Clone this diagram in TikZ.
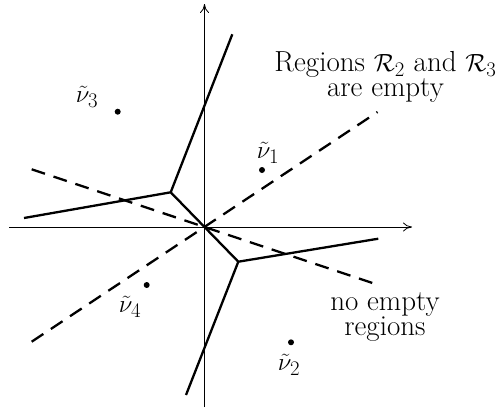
\documentclass[tikz,border=0pt]{standalone}
\usetikzlibrary{arrows.meta}
\begin{document}
\begin{tikzpicture}[x=1pt,y=-1pt,
  axis/.style={line width=0.8pt,-{To[length=9pt,width=9pt]}},
  edge/.style={line width=2.3pt},
  dashline/.style={line width=2.3pt,dash pattern=on 14pt off 9pt},
  dot/.style={circle,fill,inner sep=0pt,minimum size=6pt},
  lbl/.style={font=\fontsize{28}{23}\selectfont,inner sep=0pt},
  txt/.style={font=\fontsize{29}{21}\selectfont,align=center,inner sep=0pt}]
\useasboundingbox (0,0) rectangle (503,413);
% axes
\coordinate (O) at (204.5,227);
\coordinate (xl) at (9,227);
\coordinate (xr) at (412,227);
\coordinate (yb) at (204.5,407);
\coordinate (yt) at (204.5,4);
\draw[axis] (xl) -- (xr);
\draw[axis] (yb) -- (yt);
% dashed lines
\coordinate (d1a) at (31.7,169.3);
\coordinate (d1b) at (373.3,283.3);
\coordinate (d2a) at (31.7,341.7);
\coordinate (d2b) at (377.5,112);
\draw[dashline] (d1a) -- (d1b);
\draw[dashline] (d2a) -- (d2b);
% solid edges
\coordinate (A) at (170.7,192.3);
\coordinate (B) at (238.3,261.7);
\coordinate (At) at (232.3,34.3);
\coordinate (Al) at (24,218);
\coordinate (Bb) at (186,395);
\coordinate (Br) at (378.3,238.7);
\draw[edge] (At) -- (A) -- (Al);
\draw[edge] (A) -- (B);
\draw[edge] (Bb) -- (B) -- (Br);
% points
\node[dot] (v3) at (117.7,111.7) {};
\node[dot] (v1) at (262,170) {};
\node[dot] (v4) at (146.7,285) {};
\node[dot] (v2) at (291,342.3) {};
\node[lbl] (l3) at (87,97) {$\tilde{\nu}_3$};
\node[lbl] (l1) at (268,153) {$\tilde{\nu}_1$};
\node[lbl] (l4) at (130,307) {$\tilde{\nu}_4$};
\node[lbl] (l2) at (289,365) {$\tilde{\nu}_2$};
% texts
\node[txt] (t1) at (385.5,77) {Regions $\mathcal{R}_2$ and $\mathcal{R}_3$\\are empty};
\node[txt] (t2) at (385,317) {no empty\\regions};
\end{tikzpicture}
\end{document}
